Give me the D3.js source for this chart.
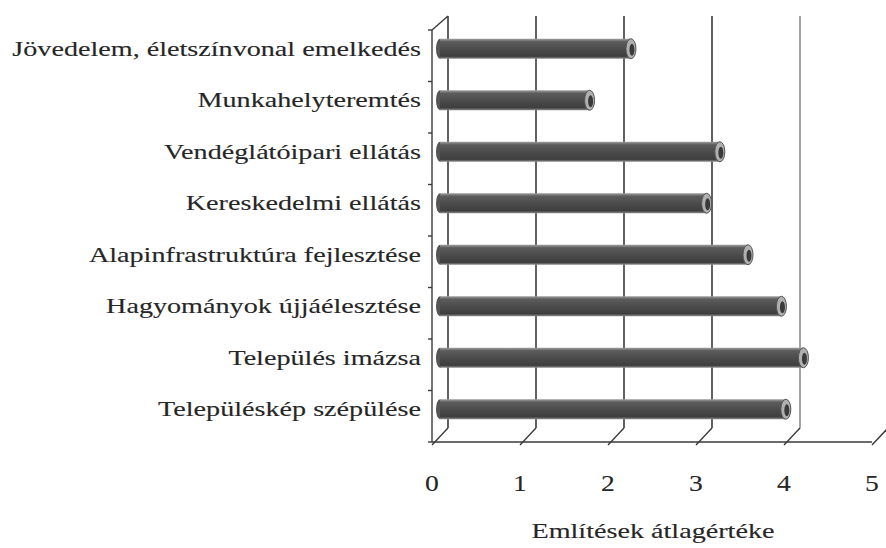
<!DOCTYPE html>
<meta charset="utf-8"/>
<title>Említések átlagértéke</title>
<script src="https://d3js.org/d3.v7.min.js"></script>
<style>
  body { margin: 0; background: #fff; }
  text { font-family: 'Liberation Serif', 'DejaVu Serif', serif; fill: #262626; stroke: #262626; stroke-width: 0.12px; }
</style>
<svg width=886 height=548></svg>
<script>
  const categories = [
    "Jövedelem, életszínvonal emelkedés",
    "Munkahelyteremtés",
    "Vendéglátóipari ellátás",
    "Kereskedelmi ellátás",
    "Alapinfrastruktúra fejlesztése",
    "Hagyományok újjáélesztése",
    "Település imázsa",
    "Településkép szépülése"
  ];
  const values = [2.17, 1.70, 3.18, 3.03, 3.50, 3.88, 4.13, 3.93];
  const ticks = [0, 1, 2, 3, 4, 5];

  const depth = {dx: 16, dy: -14};
  const stretch = 1.34; // the original face is wider than Liberation Serif
  const svg = d3.select('svg');

  const x = d3.scaleLinear().domain([0, 5]).range([432, 872]);
  const y = d3.scaleBand().domain(categories).range([30, 442]);

  function widen(sel, k) {
    sel.each(function () {
      this.setAttribute('textLength', this.getComputedTextLength() * k);
      this.setAttribute('lengthAdjust', 'spacingAndGlyphs');
    });
  }

  // gradient for the cylinder bodies
  const defs = svg.append('defs');
  const grad = defs.append('linearGradient')
    .attr('id', 'cyl').attr('x1', 0).attr('x2', 0).attr('y1', 0).attr('y2', 1);
  grad.append('stop').attr('offset', '0%').attr('stop-color', '#a0a0a0');
  grad.append('stop').attr('offset', '15%').attr('stop-color', '#5c5c5c');
  grad.append('stop').attr('offset', '55%').attr('stop-color', '#4a4a4a');
  grad.append('stop').attr('offset', '88%').attr('stop-color', '#3e3e3e');
  grad.append('stop').attr('offset', '100%').attr('stop-color', '#909090');

  // back wall gridlines
  svg.append('g').selectAll('line')
    .data(ticks.filter(t => t < 5)).enter()
    .append('line')
    .attr('x1', d => x(d) + depth.dx).attr('x2', d => x(d) + depth.dx)
    .attr('y1', 30 + depth.dy).attr('y2', 442 + depth.dy)
    .style('stroke', d => d === 4 ? '#8c8c8c' : '#3a3a3a')
    .style('stroke-width', 1.6);

  // left wall
  const wall = svg.append('g').style('stroke', '#3a3a3a').style('stroke-width', 1.4).style('fill', 'none');
  wall.append('line').attr('x1', x(0)).attr('x2', x(0)).attr('y1', 30).attr('y2', 442);
  wall.append('line').attr('x1', x(0)).attr('x2', x(0) + depth.dx).attr('y1', 30).attr('y2', 30 + depth.dy);
  wall.selectAll('.ytick')
    .data(d3.range(categories.length + 1)).enter()
    .append('line')
    .attr('x1', x(0) - 4).attr('x2', x(0))
    .attr('y1', i => 30 + i * y.step()).attr('y2', i => 30 + i * y.step());

  // floor
  const floor = svg.append('g').style('stroke', '#3a3a3a').style('stroke-width', 1.4).style('fill', 'none');
  floor.append('line').attr('x1', x(0)).attr('x2', x(5)).attr('y1', 442).attr('y2', 442);
  floor.selectAll('.diag')
    .data(ticks).enter()
    .append('line')
    .attr('x1', d => x(d)).attr('y1', 445)
    .attr('x2', d => x(d) + depth.dx).attr('y2', 442 + depth.dy);

  // cylinders
  const bh = 20;
  const x0 = x(0) + depth.dx / 2;
  const bars = svg.append('g').selectAll('g')
    .data(values).enter()
    .append('g')
    .attr('transform', (d, i) => 'translate(0,' + (y(categories[i]) + y.bandwidth() / 2 + depth.dy / 2) + ')');
  bars.append('ellipse')
    .attr('cx', x0).attr('cy', 0).attr('rx', 4).attr('ry', bh / 2)
    .style('fill', '#555');
  bars.append('rect')
    .attr('x', x0).attr('y', -bh / 2)
    .attr('width', d => x(d) - x(0)).attr('height', bh)
    .style('fill', 'url(#cyl)');
  bars.append('ellipse')
    .attr('cx', d => x0 + x(d) - x(0)).attr('cy', 0).attr('rx', 5).attr('ry', bh / 2)
    .style('fill', '#b0b0b0').style('stroke', '#555').style('stroke-width', 1);
  bars.append('ellipse')
    .attr('cx', d => x0 + x(d) - x(0) + 1).attr('cy', 1).attr('rx', 2.5).attr('ry', bh / 2 - 4)
    .style('fill', '#3a3a3a');

  // category labels
  svg.append('g').selectAll('text')
    .data(categories).enter()
    .append('text')
    .attr('x', 421)
    .attr('y', d => y(d) + y.bandwidth() / 2 + depth.dy / 2)
    .attr('dy', '0.33em')
    .attr('text-anchor', 'end')
    .style('font-size', '21px')
    .text(d => d)
    .call(widen, stretch);

  // tick labels
  svg.append('g').selectAll('text')
    .data(ticks).enter()
    .append('text')
    .attr('x', d => x(d))
    .attr('y', 491)
    .attr('text-anchor', 'middle')
    .style('font-size', '24px')
    .text(d => d)
    .call(widen, 1.15);

  svg.append('text')
    .attr('x', 653).attr('y', 538)
    .attr('text-anchor', 'middle')
    .style('font-size', '21px')
    .text('Említések átlagértéke')
    .call(widen, stretch);
</script>
